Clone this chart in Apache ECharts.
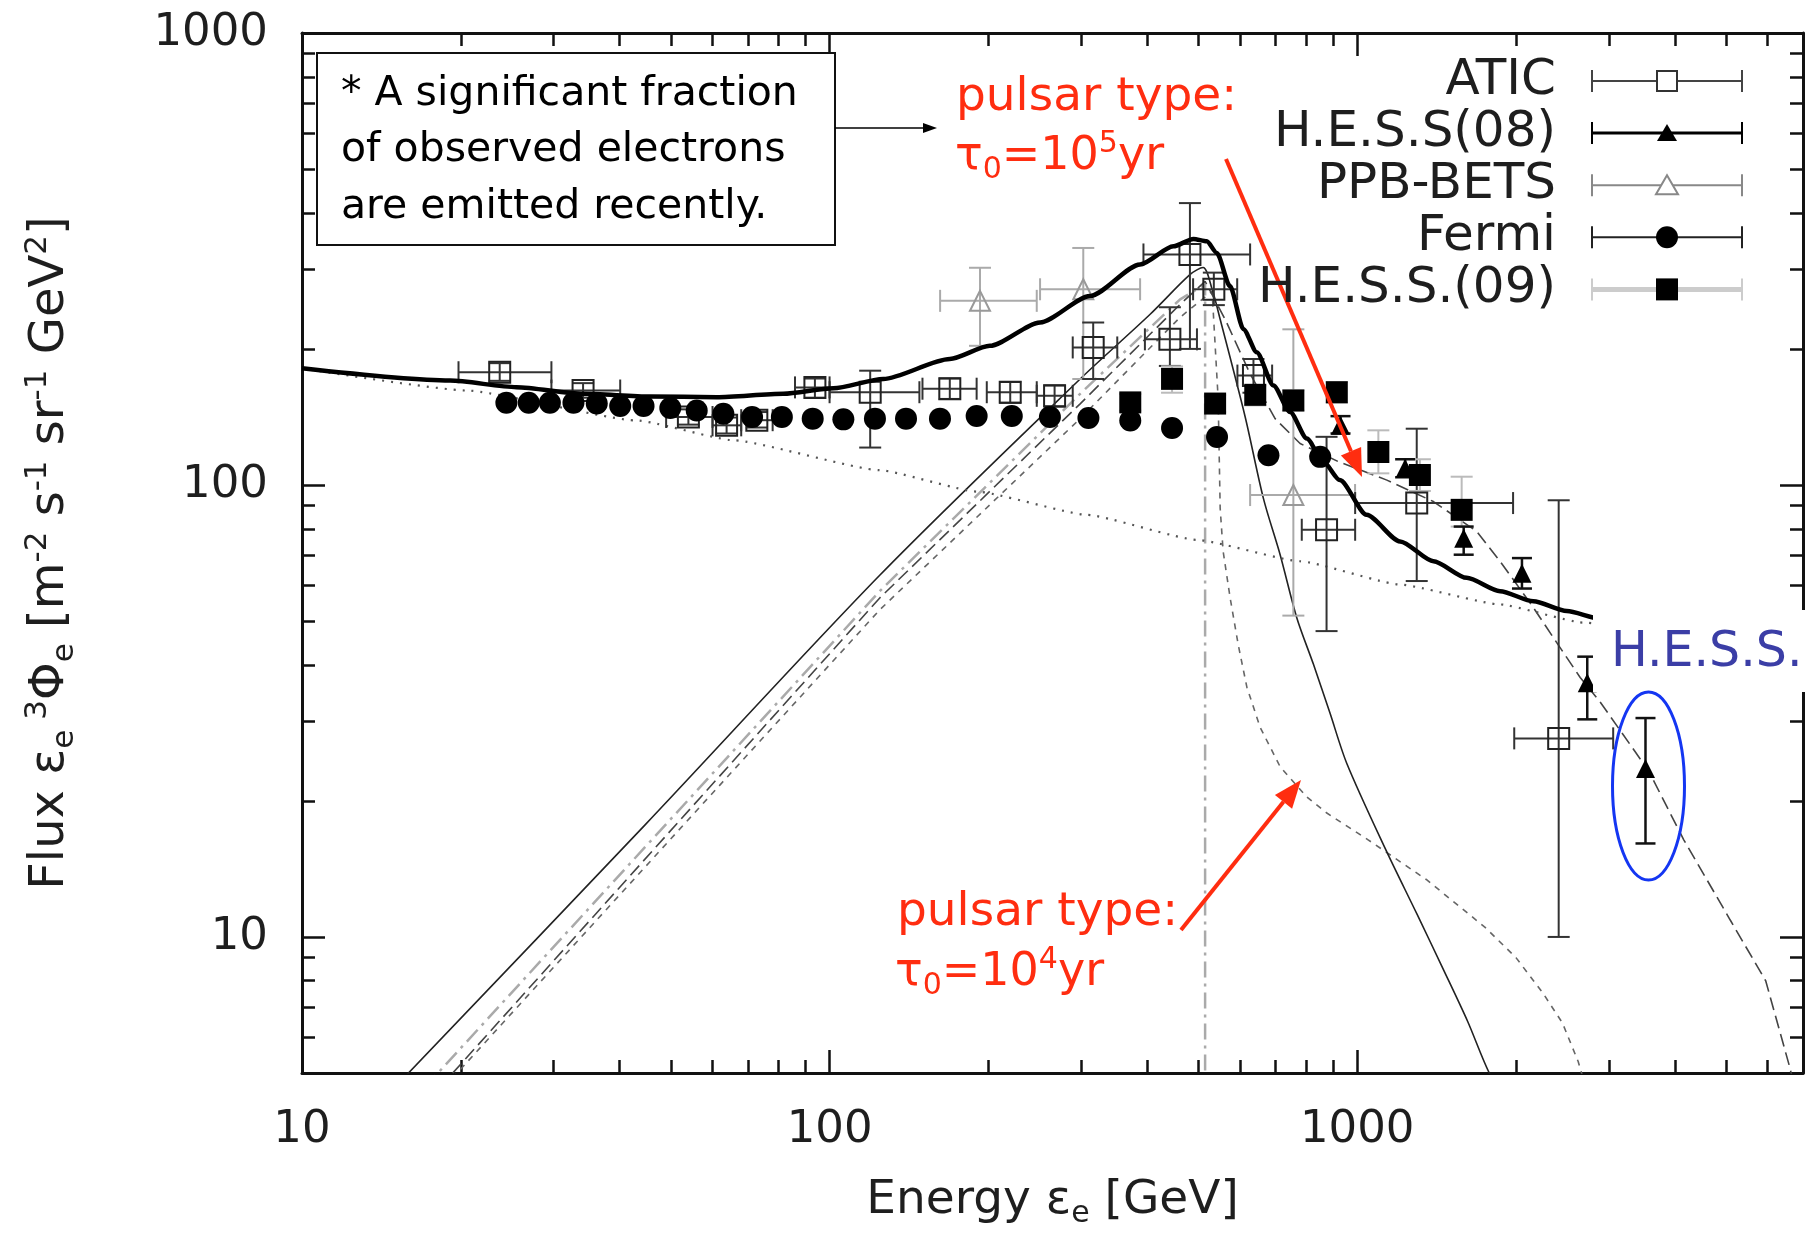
<!DOCTYPE html>
<html>
<head>
<meta charset="utf-8">
<script src="https://cdn.jsdelivr.net/npm/echarts@6/dist/echarts.min.js"></script>
<style>
  html, body { margin: 0; background: #fff; }
  #chart { width: 1810px; height: 1234px; }
</style>
</head>
<body>
<div id="chart"></div>
<script>
// tick values (GeV on x, flux on y)
const xTicksMajor = [10, 100, 1000];
const xTicksMinor = [20, 30, 40, 50, 60, 70, 80, 90, 200, 300, 400, 500, 600, 700, 800, 900, 2000, 3000, 4000, 5000, 6000];
const yTicksMajor = [10, 100, 1000];
const yTicksMinor = [6, 7, 8, 9, 20, 30, 40, 50, 60, 70, 80, 90, 200, 300, 400, 500, 600, 700, 800, 900];

// data points: [E, flux, Elo, Ehi, fluxLo, fluxHi]
const atic = [
  [23.7, 177.6, 19.8, 29.7, 170, 186], [34.1, 161.8, 29.7, 40.1, 156, 168],
  [54.0, 141.4, 49, 60, 136, 147], [63.8, 135.5, 60, 68, 130, 141],
  [72.8, 139.1, 68, 78, 134, 145], [93.8, 164.4, 86, 100, 156, 172],
  [119.4, 160.4, 100, 148, 121, 179], [169, 163.3, 150, 190, 155, 172],
  [220, 160.4, 198.6, 247, 152, 169], [267, 157.5, 247, 289, 149, 166],
  [316, 201.5, 289, 351, 171.6, 228.8], [441.6, 210, 396, 497, 183.4, 247.3],
  [482, 323.6, 393.5, 626.8, 200, 420.4], [535, 271, 488.7, 592.4, 250, 295],
  [636, 174.6, 593, 690, 160, 190], [875, 79.6, 785.3, 991.3, 47.5, 127.8],
  [1297, 91.2, 991.3, 1975, 61.3, 133.2], [2410, 27.5, 1985, 3057, 10, 92.5]
];
const hess08 = [
  [930, 135.5, 930, 930, 130, 142], [1233, 108.9, 1233, 1233, 104, 114],
  [1592, 76.2, 1592, 1592, 70.1, 80.9], [2053, 63.8, 2053, 2053, 59, 68.9],
  [2730, 36.5, 2730, 2730, 30.3, 41.7], [3520, 23.6, 3520, 3520, 16.1, 30.5]
];
const ppbBets = [
  [192.8, 255.5, 162, 247, 203.2, 302.4],
  [302.6, 271, 250.6, 387.8, 171.6, 334.5],
  [757, 95, 626.8, 991, 51.4, 221]
];
const fermi = [
  [24.4, 152], [26.9, 152], [29.5, 152], [32.7, 152], [36.2, 151.4], [40.1, 149.6],
  [44.4, 149.6], [49.9, 148], [56.0, 146.2], [62.9, 143.8], [71.3, 141.4], [81.2, 141.4],
  [92.9, 140.2], [106.2, 139.7], [121.9, 140.2], [139.6, 140.2], [161.9, 140.2], [190, 142.1],
  [221.5, 142.1], [261.6, 141.4], [309.5, 140.6], [371.5, 138.9], [445.8, 133.7], [542.5, 127.7],
  [679, 116.3], [851, 115.4]
];
const hess09 = [
  [371.5, 152.3, 371.5, 371.5, 146, 159], [445.8, 171.7, 445.8, 445.8, 160, 183],
  [538, 151.4, 538, 538, 145, 158], [641, 158.3, 641, 641, 150, 166],
  [757, 153.8, 757, 757, 146, 162], [915, 160.4, 915, 915, 152, 169],
  [1097, 118.3, 1097, 1097, 106.1, 132.1], [1315, 105.2, 1315, 1315, 97, 114],
  [1578, 88.1, 1578, 1578, 80.9, 104.3]
];

// model curves: [E, flux]
const total = [
  [10, 181.2], [19.08, 170.2], [25.5, 164.6], [34.1, 159.1], [45.7, 156.9], [61.1, 156.4],
  [81.7, 159.1], [101.6, 163.7], [126.4, 171.6], [169, 190], [201.3, 203.2], [250.6, 228.8],
  [311.7, 261.8], [387.8, 307.5], [448.5, 337.3], [489.5, 350.3], [518.8, 346], [542, 326.2],
  [574, 275.4], [608.8, 221.2], [645.2, 196.6], [693.9, 166], [746.4, 145], [802.8, 126.7],
  [863, 112.5], [927, 102.5], [1042, 85.9], [1206, 75], [1395, 67.8], [1613, 62.3],
  [1866, 58.2], [2158, 55.3], [2497, 52.6], [2886, 50.6], [4465, 45.9]
];
const background = [
  [10, 181.1], [20.5, 161.8], [43.1, 138.9], [65.7, 125.6], [124.6, 107.8], [190.1, 96.7],
  [307.4, 85.9], [496.8, 75.6], [779.6, 67.8], [1206, 60.2], [1866, 54.4], [2682, 49.6], [6855, 39.9]
];
const pulsarSolid = [
  [15.0, 4.65], [44.7, 17.7], [124.6, 63.2], [298.5, 171.6], [405.2, 238.6],
  [482.5, 292.3], [510.5, 302.8], [531, 270.9], [550, 232.6], [613.3, 141.6], [664.2, 93.4],
  [714.5, 70.1], [768.6, 50.8], [826.4, 40.1], [888.8, 31.2], [955.9, 24.2], [1130, 15.7],
  [1300, 11.2], [1455, 8.5], [1620, 6.5], [1780, 5.0], [1950, 4.2]
];
const pulsarShortDash = [
  [18.6, 4.65], [124.6, 53.0], [298.5, 140.2], [461.8, 235], [531, 268.1], [545.2, 155.1],
  [550, 88.8], [557.1, 71.4], [574.4, 56.3], [594.9, 44.4], [618, 35.7], [654.8, 29.1],
  [714.5, 23.8], [802.8, 20.4], [876, 18.8], [1049, 16.4], [1352, 13.4], [1748, 10.5],
  [2000, 9.0], [2252, 7.5], [2450, 6.45], [2624, 5.3], [2705, 4.7]
];
const pulsarLongDash = [
  [18.26, 4.65], [124.6, 56.3], [298.5, 151.2], [461.8, 251], [515, 282.1], [562, 232.6],
  [626.8, 176.1], [699, 140.2], [779.6, 123.5], [920.4, 112.7], [1138.5, 102.5], [1395, 91.9],
  [1686, 78.9], [1866, 67.8], [2159, 53.5], [2356, 45.9], [2647, 37.5], [2888, 33.1],
  [3569, 23.3], [4160, 16.4], [5095, 10.9], [5948, 8.0], [6591, 5.2], [6767, 4.6]
];
const pulsarDashDot = [
  [17.1, 4.65], [124.6, 58.3], [298.5, 159.1], [461.8, 257.5], [515, 277.8], [515, 4.7]
];

const FONT = 'DejaVu Sans';
const TXT = '#1e1e1e';
const RED = '#ff2d10';

function tickAxis(pos, lim, values, len, withLine, withLabel, extra) {
  const logs = values.map(Math.log10);
  return Object.assign({
    type: 'value', gridIndex: 0, position: pos, min: lim[0], max: lim[1],
    axisLine: { show: withLine, onZero: false, lineStyle: { color: '#111', width: 3 } },
    axisTick: { show: true, inside: true, length: len, customValues: logs, lineStyle: { color: '#111', width: 2.5 } },
    axisLabel: {
      show: withLabel, customValues: logs, fontFamily: FONT, fontSize: 45, color: TXT,
      margin: pos === 'bottom' ? 35 : 34,
      formatter: (v) => String(Math.round(Math.pow(10, v)))
    },
    splitLine: { show: false }
  }, extra || {});
}

const LX = [1, Math.log10(7000)];
const LY = [Math.log10(5), 3];

function errorBars(data, color, width, cap) {
  return {
    type: 'custom', data, z: 3, clip: true,
    encode: { x: 0, y: 1 },
    renderItem(params, api) {
      const x = api.value(0), y = api.value(1);
      const xl = api.value(2), xh = api.value(3), yl = api.value(4), yh = api.value(5);
      const st = { stroke: color, lineWidth: width, fill: null };
      const kids = [];
      if (yh > yl) {
        const a = api.coord([x, yl]), b = api.coord([x, yh]);
        kids.push({ type: 'line', shape: { x1: a[0], y1: a[1], x2: b[0], y2: b[1] }, style: st });
        kids.push({ type: 'line', shape: { x1: a[0] - cap, y1: a[1], x2: a[0] + cap, y2: a[1] }, style: st });
        kids.push({ type: 'line', shape: { x1: b[0] - cap, y1: b[1], x2: b[0] + cap, y2: b[1] }, style: st });
      }
      if (xh > xl) {
        const a = api.coord([xl, y]), b = api.coord([xh, y]);
        kids.push({ type: 'line', shape: { x1: a[0], y1: a[1], x2: b[0], y2: b[1] }, style: st });
        kids.push({ type: 'line', shape: { x1: a[0], y1: a[1] - cap, x2: a[0], y2: a[1] + cap }, style: st });
        kids.push({ type: 'line', shape: { x1: b[0], y1: b[1] - cap, x2: b[0], y2: b[1] + cap }, style: st });
      }
      return { type: 'group', children: kids };
    }
  };
}

function curve(data, color, width, type, z, smooth, mono) {
  return {
    type: 'line', data, showSymbol: false, symbol: 'none', z, clip: true,
    smooth: smooth || 0, smoothMonotone: mono ? 'x' : undefined,
    lineStyle: { color, width, type }, silent: true
  };
}

function arrow(x1, y1, x2, y2, color, w, head, hw) {
  const dx = x2 - x1, dy = y2 - y1, L = Math.hypot(dx, dy);
  const ux = dx / L, uy = dy / L;
  const bx = x2 - ux * head, by = y2 - uy * head;
  return [
    { type: 'line', z: 100, shape: { x1, y1, x2: bx, y2: by }, style: { stroke: color, lineWidth: w } },
    { type: 'polygon', z: 100, shape: { points: [[x2, y2], [bx - uy * hw, by + ux * hw], [bx + uy * hw, by - ux * hw]] }, style: { fill: color } }
  ];
}

const redRich = {
  m: { fontFamily: FONT, fontSize: 46, fill: RED, lineHeight: 56 },
  sub: { fontFamily: FONT, fontSize: 30, fill: RED, verticalAlign: 'bottom', lineHeight: 28 },
  sup: { fontFamily: FONT, fontSize: 30, fill: RED, verticalAlign: 'top', lineHeight: 28 }
};

// legend key drawn as graphics
const legendRows = [
  { name: 'ATIC', bar: '#444', bw: 2, mark: 'sqOpen', mc: '#333' },
  { name: 'H.E.S.S(08)', bar: '#000', bw: 3, mark: 'tri', mc: '#000' },
  { name: 'PPB-BETS', bar: '#888', bw: 2, mark: 'triOpen', mc: '#888' },
  { name: 'Fermi', bar: '#222', bw: 2, mark: 'circ', mc: '#000' },
  { name: 'H.E.S.S.(09)', bar: '#ccc', bw: 5, mark: 'sq', mc: '#000' }
];
const legendGraphics = [];
legendRows.forEach((r, i) => {
  const cy = 81 + i * 52.1, x0 = 1592, x1 = 1742, cx = 1667;
  legendGraphics.push({ type: 'text', x: 1556, y: cy, z: 100, style: { text: r.name, fontFamily: FONT, fontSize: 50, fill: TXT, align: 'right', verticalAlign: 'middle' } });
  legendGraphics.push({ type: 'line', z: 100, shape: { x1: x0, y1: cy, x2: x1, y2: cy }, style: { stroke: r.bar, lineWidth: r.bw } });
  legendGraphics.push({ type: 'line', z: 100, shape: { x1: x0, y1: cy - 11, x2: x0, y2: cy + 11 }, style: { stroke: r.bar, lineWidth: 2 } });
  legendGraphics.push({ type: 'line', z: 100, shape: { x1: x1, y1: cy - 11, x2: x1, y2: cy + 11 }, style: { stroke: r.bar, lineWidth: 2 } });
  if (r.mark === 'sqOpen') legendGraphics.push({ type: 'rect', z: 101, shape: { x: cx - 10, y: cy - 10, width: 20, height: 20 }, style: { fill: '#fff', stroke: r.mc, lineWidth: 2 } });
  if (r.mark === 'sq') legendGraphics.push({ type: 'rect', z: 101, shape: { x: cx - 11, y: cy - 11, width: 22, height: 22 }, style: { fill: r.mc } });
  if (r.mark === 'circ') legendGraphics.push({ type: 'circle', z: 101, shape: { cx, cy, r: 11 }, style: { fill: r.mc } });
  if (r.mark === 'tri') legendGraphics.push({ type: 'polygon', z: 101, shape: { points: [[cx, cy - 9], [cx - 10, cy + 8], [cx + 10, cy + 8]] }, style: { fill: r.mc } });
  if (r.mark === 'triOpen') legendGraphics.push({ type: 'polygon', z: 101, shape: { points: [[cx, cy - 10], [cx - 11, cy + 9], [cx + 11, cy + 9]] }, style: { fill: '#fff', stroke: r.mc, lineWidth: 2 } });
});

const solidMarker = { color: '#000', opacity: 1 };

const chart = echarts.init(document.getElementById('chart'));
chart.setOption({
  backgroundColor: '#fff',
  animation: false,
  grid: { left: 302, right: 7, top: 33, bottom: 157, containLabel: false },
  xAxis: [
    { type: 'log', logBase: 10, min: 10, max: 7000, show: false },
    tickAxis('bottom', LX, xTicksMajor, 23, true, true, {
      name: '{a|Energy ε}{s|e}{a| [GeV]}',
      nameLocation: 'middle', nameGap: 100,
      nameTextStyle: {
        color: TXT,
        rich: {
          a: { fontFamily: FONT, fontSize: 47, color: TXT, lineHeight: 56 },
          s: { fontFamily: FONT, fontSize: 30, color: TXT, verticalAlign: 'bottom', lineHeight: 26 }
        }
      }
    }),
    tickAxis('bottom', LX, xTicksMinor, 13, false, false),
    tickAxis('top', LX, xTicksMajor, 23, true, false),
    tickAxis('top', LX, xTicksMinor, 13, false, false)
  ],
  yAxis: [
    { type: 'log', logBase: 10, min: 5, max: 1000, show: false },
    tickAxis('left', LY, yTicksMajor, 23, true, true, {
      name: '{a|Flux ε}{s|e}{p| 3}{a|Φ}{s|e}{a| [m}{p|-2}{a| s}{p|-1}{a| sr}{p|-1}{a| GeV}{p|2}{a|]}',
      nameLocation: 'middle', nameGap: 222, nameRotate: 90,
      nameTextStyle: {
        color: TXT,
        rich: {
          a: { fontFamily: FONT, fontSize: 48, color: TXT, lineHeight: 58 },
          s: { fontFamily: FONT, fontSize: 31, color: TXT, verticalAlign: 'bottom', lineHeight: 26 },
          p: { fontFamily: FONT, fontSize: 31, color: TXT, verticalAlign: 'top', lineHeight: 26 }
        }
      }
    }),
    tickAxis('left', LY, yTicksMinor, 13, false, false),
    tickAxis('right', LY, yTicksMajor, 23, true, false),
    tickAxis('right', LY, yTicksMinor, 13, false, false)
  ],
  series: [
    curve(pulsarDashDot, '#aaa', 2.5, [16, 6, 3, 6], 1),
    curve(pulsarShortDash, '#666', 1.6, [6, 6], 1),
    curve(pulsarLongDash, '#444', 1.6, [13, 6], 1),
    curve(pulsarSolid, '#222', 1.6, 'solid', 1, 0.3),
    curve(background, '#555', 2.2, [2, 7], 1, 0.15, true),
    errorBars(ppbBets, '#aaa', 2, 11),
    errorBars(atic, '#333', 2, 11),
    errorBars(hess09, '#bbb', 2, 11),
    errorBars(hess08, '#111', 2.5, 10),
    { type: 'scatter', name: 'PPB-BETS', data: ppbBets.map(d => [d[0], d[1]]), symbol: 'triangle', symbolSize: 20, z: 4,
      itemStyle: { color: 'rgba(0,0,0,0)', borderColor: '#999', borderWidth: 2, opacity: 1 } },
    { type: 'scatter', name: 'ATIC', data: atic.map(d => [d[0], d[1]]), symbol: 'rect', symbolSize: 21, z: 4,
      itemStyle: { color: 'rgba(0,0,0,0)', borderColor: '#222', borderWidth: 2, opacity: 1 } },
    { type: 'scatter', name: 'Fermi', data: fermi, symbol: 'circle', symbolSize: 22, z: 5, itemStyle: solidMarker },
    { type: 'scatter', name: 'H.E.S.S.(09)', data: hess09.map(d => [d[0], d[1]]), symbol: 'rect', symbolSize: 22, z: 5, itemStyle: solidMarker },
    { type: 'scatter', name: 'H.E.S.S(08)', data: hess08.map(d => [d[0], d[1]]), symbol: 'triangle', symbolSize: 19, z: 5, itemStyle: solidMarker },
    curve(total, '#000', 4.5, 'solid', 6, 0.25, true)
  ],
  graphic: [
    { type: 'rect', z: 100, shape: { x: 317, y: 53, width: 518, height: 192 }, style: { fill: '#fff', stroke: '#111', lineWidth: 2 } },
    { type: 'text', z: 101, x: 341, y: 66, style: { text: '* A significant fraction\nof observed electrons\nare emitted recently.', fontFamily: FONT, fontSize: 41, lineHeight: 56.5, fill: '#000', verticalAlign: 'top' } },
    ...arrow(835, 128, 937, 128, '#000', 1.5, 14, 5),
    { type: 'text', z: 101, x: 956, y: 98, style: { text: 'pulsar type:', fontFamily: FONT, fontSize: 47, fill: RED, verticalAlign: 'middle' } },
    { type: 'text', z: 101, x: 955, y: 157, style: { text: '{m|τ}{sub|0}{m|=10}{sup|5}{m|yr}', rich: redRich, verticalAlign: 'middle' } },
    ...arrow(1226, 159, 1362, 477, RED, 4, 28, 11),
    { type: 'text', z: 101, x: 897, y: 913, style: { text: 'pulsar type:', fontFamily: FONT, fontSize: 47, fill: RED, verticalAlign: 'middle' } },
    { type: 'text', z: 101, x: 895, y: 973, style: { text: '{m|τ}{sub|0}{m|=10}{sup|4}{m|yr}', rich: redRich, verticalAlign: 'middle' } },
    ...arrow(1181, 930, 1301, 780, RED, 4, 28, 11),
    { type: 'ellipse', z: 101, shape: { cx: 1648.5, cy: 786, rx: 36, ry: 94 }, style: { fill: null, stroke: '#1436f2', lineWidth: 3 } },
    { type: 'rect', z: 100, shape: { x: 1593, y: 610, width: 217, height: 82 }, style: { fill: '#fff' } },
    { type: 'text', z: 101, x: 1611, y: 653, style: { text: 'H.E.S.S.', fontFamily: FONT, fontSize: 49, fill: '#3b3ea6', verticalAlign: 'middle' } },
    ...legendGraphics
  ]
});
</script>
</body>
</html>
